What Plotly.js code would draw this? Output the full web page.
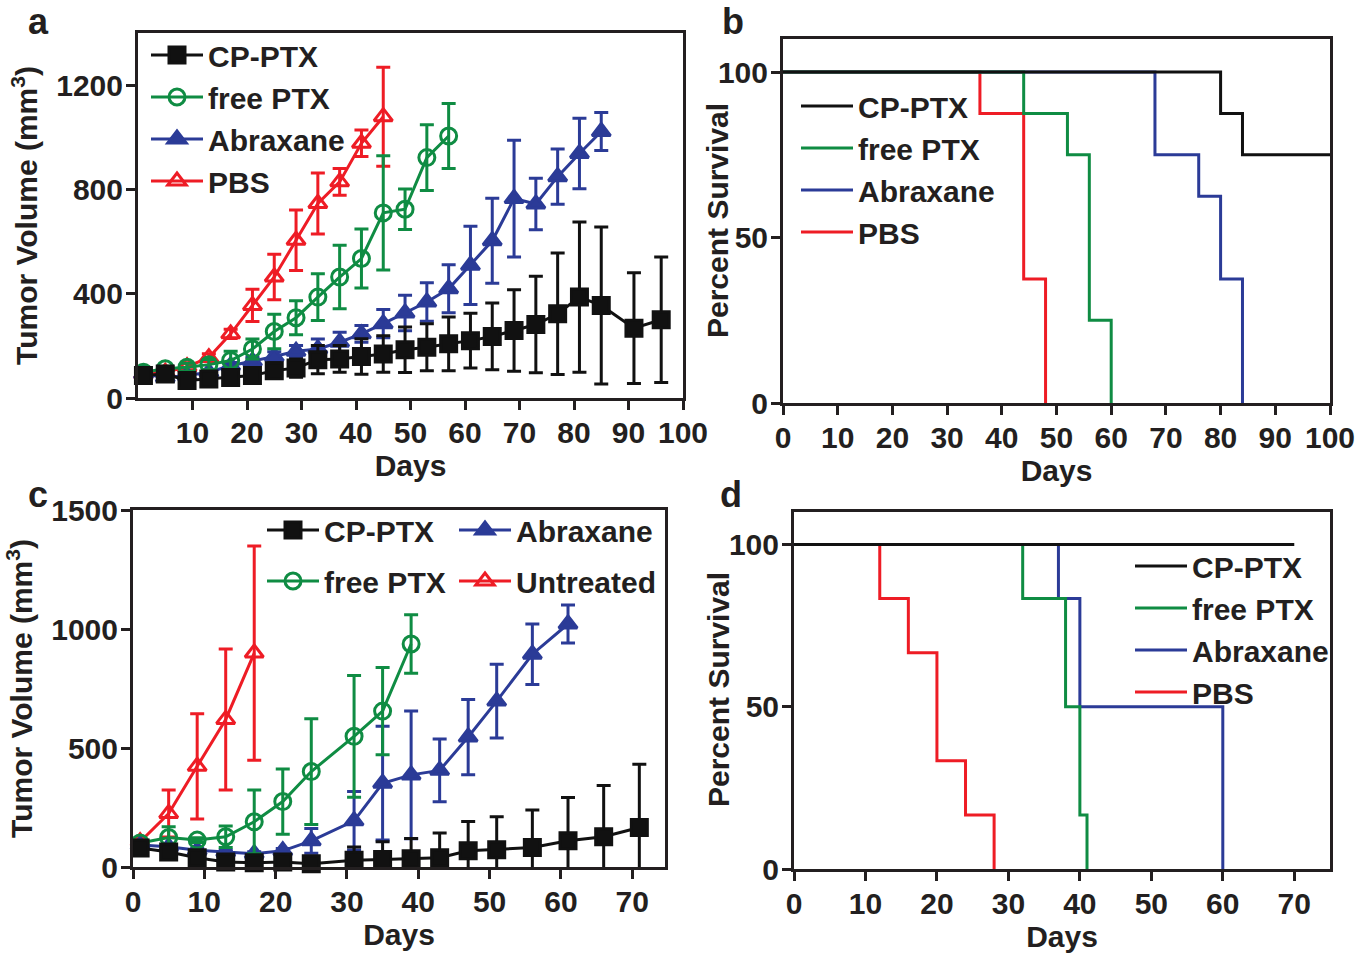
<!DOCTYPE html>
<html>
<head>
<meta charset="utf-8">
<script src="https://cdn.plot.ly/plotly-3.0.1.min.js"></script>
<style>
  html, body { margin: 0; padding: 0; background: #ffffff; }
  #chart { width: 1371px; height: 956px; }
</style>
</head>
<body>
<div id="chart"></div>
<script>
// ---------- Panel a: tumor volume (mm3) ----------
const daysA_cp = [1,5,9,13,17,21,25,29,33,37,41,45,49,53,57,61,65,69,73,77,81,85,91,96];
const volA_cp  = [86,92,67,73,79,86,105,115,147,150,159,169,185,195,208,220,236,259,282,323,387,355,268,300];
const errA_cp  = [10,15,15,20,20,25,30,35,54,51,68,70,87,90,103,105,128,156,185,233,288,301,212,241];

const daysA_free = [1,5,9,13,17,21,25,29,33,37,41,45,49,53,57];
const volA_free  = [99,112,118,128,144,188,255,308,387,464,535,710,724,922,1005];
const errA_free  = [10,10,15,20,35,38,66,65,90,122,113,219,78,126,125];

const daysA_abx = [1,5,9,13,17,21,25,29,33,37,41,45,49,53,57,61,65,69,73,77,81,85];
const volA_abx  = [92,79,86,99,124,141,159,179,188,214,246,285,326,368,419,509,603,765,744,849,938,1022];
const errA_abx  = [8,8,8,10,12,15,18,22,38,38,32,54,68,74,92,150,163,224,99,106,135,73];

const daysA_pbs = [1,5,9,13,17,21,25,29,33,37,41,45];
const volA_pbs  = [92,99,120,155,246,355,464,605,746,829,977,1079];
const errA_pbs  = [8,10,12,15,18,62,87,116,117,51,51,190];

// ---------- Panel b: survival (%) ----------
const survB_cp_x   = [0,80,84,100];
const survB_cp_y   = [100,87.5,75,75];
const survB_free_x = [0,44,52,56,60];
const survB_free_y = [100,87.5,75,25,0];
const survB_abx_x  = [0,68,76,80,84];
const survB_abx_y  = [100,75,62.5,37.5,0];
const survB_pbs_x  = [0,36,44,48];
const survB_pbs_y  = [100,87.5,37.5,0];

// ---------- Panel c: tumor volume (mm3) ----------
const daysC_cp = [1,5,9,13,17,21,25,31,35,39,43,47,51,56,61,66,71];
const volC_cp  = [80,63,39,21,18,21,14,28,31,35,39,68,73,82,110,127,166];
const errC_cp  = [15,10,10,8,8,10,12,56,75,85,104,123,138,158,182,215,266];

const daysC_free = [1,5,9,13,17,21,25,31,35,39];
const volC_free  = [101,124,113,127,190,275,401,549,655,937];
const errC_free  = [10,45,10,45,134,137,222,256,183,123];

const daysC_abx = [1,5,9,13,17,21,25,31,35,39,43,47,51,56,61];
const volC_abx  = [92,85,70,63,56,68,110,194,352,387,406,546,697,894,1021];
const errC_abx  = [8,8,8,8,8,10,52,123,239,268,132,158,155,127,80];

const daysC_unt = [1,5,9,13,17];
const volC_unt  = [106,225,423,620,899];
const errC_unt  = [10,99,221,296,450];

// ---------- Panel d: survival (%) ----------
const survD_cp_x   = [0,70];
const survD_cp_y   = [100,100];
const survD_free_x = [0,32,38,40,41];
const survD_free_y = [100,83.33,50,16.67,0];
const survD_abx_x  = [0,37,40,60];
const survD_abx_y  = [100,83.33,50,0];
const survD_pbs_x  = [0,12,16,20,24,28];
const survD_pbs_y  = [100,83.33,66.67,33.33,16.67,0];

// ---------- labels ----------
const namesABD = ['CP-PTX','free PTX','Abraxane','PBS'];
const namesC   = ['CP-PTX','free PTX','Abraxane','Untreated'];
const yTitleVol = 'Tumor Volume (mm<sup>3</sup>)';
const yTitleSurv = 'Percent Survival';
const xTitle = 'Days';
const panelLabels = ['a','b','c','d'];
const ticksA_x = [10,20,30,40,50,60,70,80,90,100];
const ticksA_y = [0,400,800,1200];
const ticksB_x = [0,10,20,30,40,50,60,70,80,90,100];
const ticksSurv_y = [0,50,100];
const ticksC_x = [0,10,20,30,40,50,60,70];
const ticksC_y = [0,500,1000,1500];

// ---------- styles ----------
const INK = '#231f20';
const COL = { cp: '#111111', free: '#0f8c43', abx: '#2b3b97', pbs: '#ee1c25' };
const FONT = 'Liberation Sans, Arial, Helvetica, sans-serif';
const FS = 30;

function volTrace(name, x, y, err, color, symbol, xa, ya, legend, rank) {
  return {
    type: 'scatter', mode: 'lines+markers', name: name, x: x, y: y,
    xaxis: xa, yaxis: ya, legend: legend, legendrank: rank, legendgroup: legend + name,
    line: { color: color, width: 3 },
    marker: { color: color, symbol: symbol, size: 16, line: { color: color, width: 3 } },
    error_y: { type: 'data', array: err, visible: true, color: color, thickness: 3, width: 7 },
    cliponaxis: false
  };
}
function survTrace(name, x, y, color, xa, ya, legend, rank) {
  return {
    type: 'scatter', mode: 'lines', name: name, x: x, y: y,
    xaxis: xa, yaxis: ya, legend: legend, legendrank: rank, legendgroup: legend + name,
    line: { color: color, width: 3, shape: 'hv' }, cliponaxis: false
  };
}

const traces = [
  // panel a (drawn bottom to top: PBS, Abraxane, free PTX, CP-PTX)
  volTrace(namesABD[3], daysA_pbs, volA_pbs, errA_pbs, COL.pbs, 'triangle-up-open', 'x', 'y', 'legend', 4),
  volTrace(namesABD[2], daysA_abx, volA_abx, errA_abx, COL.abx, 'triangle-up', 'x', 'y', 'legend', 3),
  volTrace(namesABD[1], daysA_free, volA_free, errA_free, COL.free, 'circle-open', 'x', 'y', 'legend', 2),
  volTrace(namesABD[0], daysA_cp, volA_cp, errA_cp, COL.cp, 'square', 'x', 'y', 'legend', 1),
  // panel b
  survTrace(namesABD[3], survB_pbs_x, survB_pbs_y, COL.pbs, 'x2', 'y2', 'legend2', 4),
  survTrace(namesABD[2], survB_abx_x, survB_abx_y, COL.abx, 'x2', 'y2', 'legend2', 3),
  survTrace(namesABD[1], survB_free_x, survB_free_y, COL.free, 'x2', 'y2', 'legend2', 2),
  survTrace(namesABD[0], survB_cp_x, survB_cp_y, COL.cp, 'x2', 'y2', 'legend2', 1),
  // panel c
  volTrace(namesC[3], daysC_unt, volC_unt, errC_unt, COL.pbs, 'triangle-up-open', 'x3', 'y3', 'legend4', 2),
  volTrace(namesC[2], daysC_abx, volC_abx, errC_abx, COL.abx, 'triangle-up', 'x3', 'y3', 'legend4', 1),
  volTrace(namesC[1], daysC_free, volC_free, errC_free, COL.free, 'circle-open', 'x3', 'y3', 'legend3', 2),
  volTrace(namesC[0], daysC_cp, volC_cp, errC_cp, COL.cp, 'square', 'x3', 'y3', 'legend3', 1),
  // panel d
  survTrace(namesABD[3], survD_pbs_x, survD_pbs_y, COL.pbs, 'x4', 'y4', 'legend5', 4),
  survTrace(namesABD[2], survD_abx_x, survD_abx_y, COL.abx, 'x4', 'y4', 'legend5', 3),
  survTrace(namesABD[1], survD_free_x, survD_free_y, COL.free, 'x4', 'y4', 'legend5', 2),
  survTrace(namesABD[0], survD_cp_x, survD_cp_y, COL.cp, 'x4', 'y4', 'legend5', 1)
];

const W = 1371, H = 956;
const px = v => v / W;
const py = v => 1 - v / H;

function axis(extra) {
  return Object.assign({
    showline: true, linewidth: 3, linecolor: INK, mirror: true,
    ticks: 'outside', ticklen: 9, tickwidth: 3, tickcolor: INK,
    showgrid: false, zeroline: false, fixedrange: true,
    tickfont: { family: FONT, size: FS, color: INK, weight: 'bold' },
    ticklabelstandoff: -3,
    tickmode: 'array'
  }, extra);
}
function axTitle(text, standoff) {
  return { text: text, standoff: standoff, font: { family: FONT, size: FS, color: INK, weight: 'bold' } };
}
function legendBox(x, y, gap) {
  return {
    x: px(x), y: py(y), xanchor: 'left', yanchor: 'top',
    bgcolor: 'rgba(0,0,0,0)', borderwidth: 0,
    font: { family: FONT, size: FS, color: INK, weight: 'bold' },
    itemwidth: 52, traceorder: 'grouped', tracegroupgap: gap,
    itemclick: false, itemdoubleclick: false
  };
}
function label(text, x, y, size, angle) {
  return {
    text: text, x: px(x), y: py(y), xref: 'paper', yref: 'paper',
    xanchor: 'center', yanchor: 'middle', showarrow: false, textangle: angle || 0,
    font: { family: FONT, size: size, color: INK, weight: 'bold' }
  };
}

const layout = {
  width: W, height: H,
  margin: { l: 0, r: 0, t: 0, b: 0 },
  paper_bgcolor: '#ffffff', plot_bgcolor: '#ffffff',
  font: { family: FONT, color: INK, weight: 'bold' },
  showlegend: true,
  xaxis:  axis({ domain: [px(138), px(683)], range: [0, 100], tickvals: ticksA_x, anchor: 'y', title: axTitle(xTitle, 4) }),
  yaxis:  axis({ domain: [py(398), py(33)], range: [0, 1400], tickvals: ticksA_y, anchor: 'x', title: axTitle(yTitleVol, 10) }),
  xaxis2: axis({ domain: [px(783), px(1330)], range: [0, 100], tickvals: ticksB_x, anchor: 'y2', title: axTitle(xTitle, 4) }),
  yaxis2: axis({ domain: [py(403), py(39)], range: [0, 110], tickvals: ticksSurv_y, anchor: 'x2' }),
  xaxis3: axis({ domain: [px(133), px(665)], range: [0, 74.6], tickvals: ticksC_x, anchor: 'y3', title: axTitle(xTitle, 4) }),
  yaxis3: axis({ domain: [py(867), py(510)], range: [0, 1500], tickvals: ticksC_y, anchor: 'x3', title: axTitle(yTitleVol, 10) }),
  xaxis4: axis({ domain: [px(794), px(1330)], range: [0, 75], tickvals: ticksC_x, anchor: 'y4', title: axTitle(xTitle, 4) }),
  yaxis4: axis({ domain: [py(869), py(512)], range: [0, 110], tickvals: ticksSurv_y, anchor: 'x4' }),
  legend:  legendBox(146, 29, 0),
  legend2: legendBox(796, 80, 0),
  legend3: legendBox(262, 504, 9),
  legend4: legendBox(454, 504, 9),
  legend5: legendBox(1130, 540, 0),
  annotations: [
    label(panelLabels[0], 38, 22, 36),
    label(panelLabels[1], 733, 22, 36),
    label(panelLabels[2], 38, 494, 36),
    label(panelLabels[3], 731, 494, 36),
    label(yTitleSurv, 718, 221, FS, -90),
    label(yTitleSurv, 718, 690, FS, -90)
  ]
};

Plotly.newPlot('chart', traces, layout, { displayModeBar: false, staticPlot: true });
</script>
</body>
</html>
